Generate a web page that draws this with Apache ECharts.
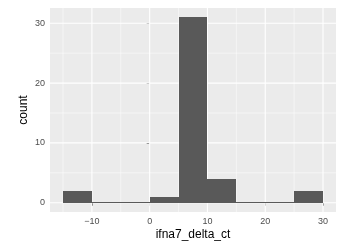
<!DOCTYPE html>
<html>
<head>
<meta charset="utf-8">
<script src="https://cdn.jsdelivr.net/npm/echarts@6/dist/echarts.min.js"></script>
<style>
  html, body { margin: 0; padding: 0; background: #fff; }
  #chart { width: 339px; height: 246px; }
</style>
</head>
<body>
<div id="chart"></div>
<script>
  // histogram bins (width 5) and counts
  var binStarts = [-15, -10, -5, 0, 5, 10, 15, 20, 25];
  var binEnds = [-10, -5, 0, 5, 10, 15, 20, 25, 30];
  var counts = [2, 0, 0, 1, 31, 4, 0, 0, 2];

  var xTicks = [-10, 0, 10, 20, 30];
  var xMinor = [-15, -5, 5, 15, 25];
  var yTicks = [0, 10, 20, 30];
  var yMinor = [5, 15, 25];

  var xMin = -17.25, xMax = 32.25;
  var yMin = -1.55, yMax = 32.55;

  var chart = echarts.init(document.getElementById('chart'));
  var font = 'Liberation Sans, Arial, sans-serif';

  var barData = [];
  for (var i = 0; i < counts.length; i++) {
    barData.push([binStarts[i], binEnds[i], counts[i]]);
  }

  // grid lines: [isX, value, width]
  var gridData = [];
  xMinor.forEach(function (v) { gridData.push([1, v, 0.5]); });
  yMinor.forEach(function (v) { gridData.push([0, v, 0.5]); });
  xTicks.forEach(function (v) { gridData.push([1, v, 1.1]); });
  yTicks.forEach(function (v) { gridData.push([0, v, 1.1]); });

  var option = {
    animation: false,
    grid: {
      left: 50, right: 3, top: 8, bottom: 32,
      show: true, backgroundColor: '#EBEBEB', borderWidth: 0
    },
    xAxis: {
      type: 'value',
      min: xMin,
      max: xMax,
      name: 'ifna7_delta_ct',
      nameLocation: 'middle',
      nameGap: 17,
      nameMoveOverlap: false,
      nameTextStyle: { color: '#000', fontSize: 12, fontFamily: font },
      axisLine: { show: false },
      splitLine: { show: false },
      axisTick: { show: true, customValues: xTicks, length: 3, lineStyle: { color: '#333333' } },
      axisLabel: { customValues: xTicks, color: '#4D4D4D', fontSize: 9, fontFamily: font, margin: 5,
        formatter: function (v) { return v < 0 ? '\u2212' + (-v) : String(v); } }
    },
    yAxis: {
      type: 'value',
      min: yMin,
      max: yMax,
      name: 'count',
      nameLocation: 'middle',
      nameRotate: 90,
      nameGap: 20,
      nameMoveOverlap: false,
      nameTextStyle: { color: '#000', fontSize: 12, fontFamily: font },
      axisLine: { show: false },
      splitLine: { show: false },
      axisTick: { show: true, customValues: yTicks, length: 3, lineStyle: { color: '#333333' } },
      axisLabel: { customValues: yTicks, color: '#4D4D4D', fontSize: 9, fontFamily: font, margin: 5 }
    },
    series: [{
      type: 'custom',
      silent: true,
      z: 1,
      data: gridData,
      encode: { x: -1, y: -1 },
      renderItem: function (params, api) {
        var isX = api.value(0), v = api.value(1);
        var p1 = isX ? api.coord([v, yMin]) : api.coord([xMin, v]);
        var p2 = isX ? api.coord([v, yMax]) : api.coord([xMax, v]);
        return {
          type: 'line',
          shape: { x1: p1[0], y1: p1[1], x2: p2[0], y2: p2[1] },
          style: { stroke: '#ffffff', lineWidth: api.value(2) }
        };
      }
    }, {
      type: 'custom',
      z: 2,
      data: barData,
      encode: { x: [0, 1], y: 2 },
      renderItem: function (params, api) {
        var top = api.coord([api.value(0), api.value(2)]);
        var bottom = api.coord([api.value(1), 0]);
        var x0 = Math.round(top[0]);
        var x1 = Math.round(bottom[0]);
        var y0 = Math.round(top[1]);
        var y1 = Math.round(bottom[1]);
        if (y1 - y0 < 1) {
          y0 = y1 - 1;
        }
        return {
          type: 'rect',
          shape: { x: x0, y: y0, width: x1 - x0, height: y1 - y0 },
          style: { fill: '#595959' }
        };
      }
    }]
  };

  chart.setOption(option);
</script>
</body>
</html>
